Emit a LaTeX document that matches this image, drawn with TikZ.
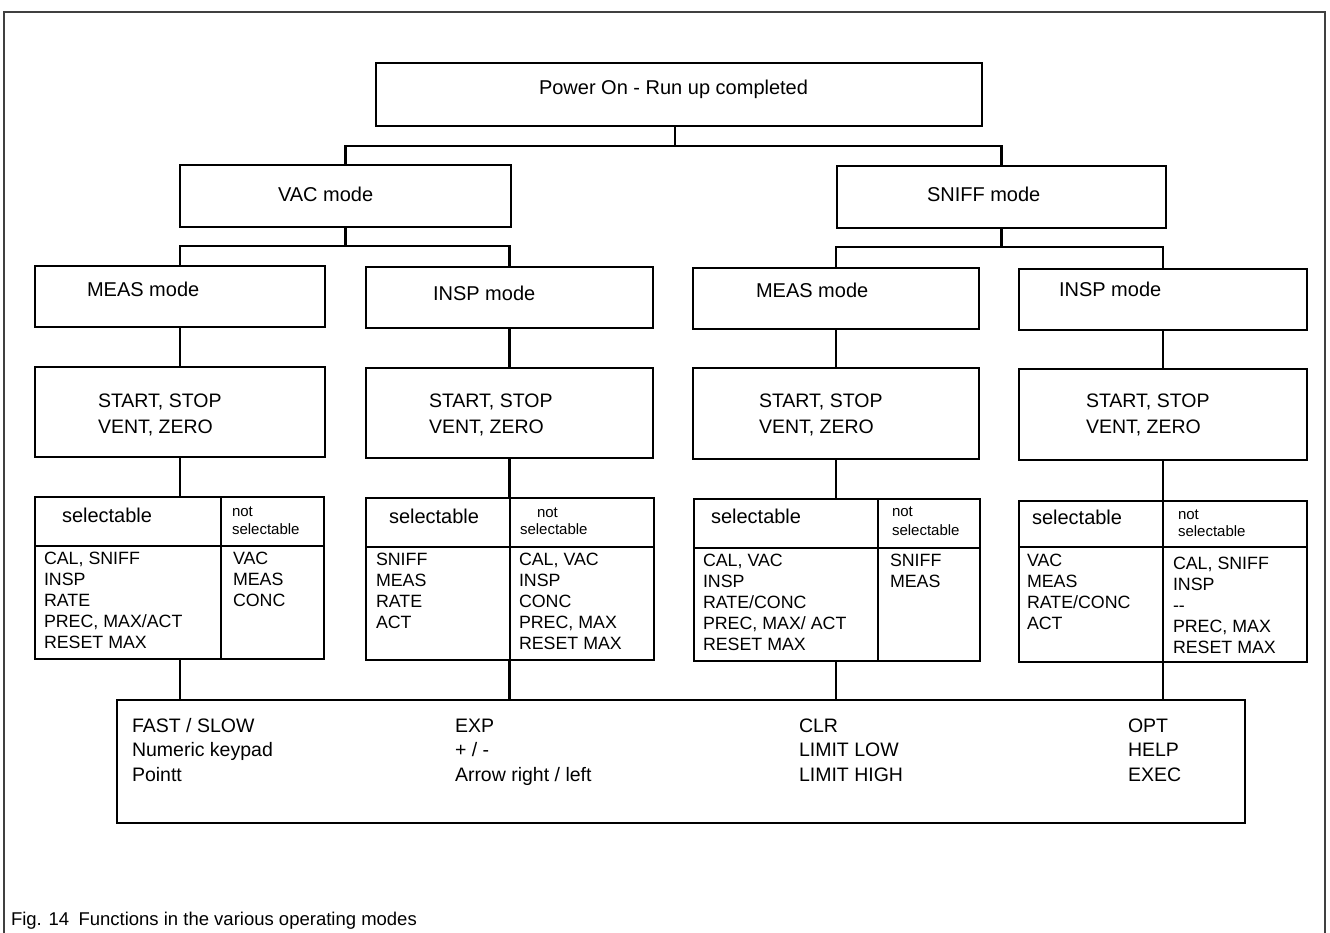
\documentclass[tikz,border=0pt]{standalone}
\usepackage{fontspec}
\setmainfont{Liberation Sans}
\tikzset{
  box/.style={draw, line width=2.6pt, inner sep=0pt, outer sep=0pt},
  conn/.style={line width=2.4pt},
  divl/.style={line width=2.6pt},
  frame/.style={line width=1.2pt, draw=black!75},
  lbl/.style={inner sep=0pt, outer sep=0pt, anchor=base west, font=\fontsize{20}{24}\selectfont},
  keys/.style={inner sep=0pt, outer sep=0pt, anchor=base west, font=\fontsize{19.5}{24}\selectfont},
  tbl/.style={inner sep=0pt, outer sep=0pt, anchor=base west, font=\fontsize{17.8}{21}\selectfont},
  small/.style={inner sep=0pt, outer sep=0pt, anchor=base west, font=\fontsize{15}{18}\selectfont},
  capt/.style={inner sep=0pt, outer sep=0pt, anchor=base west, font=\fontsize{18.5}{22}\selectfont},
}
\newcommand\mkbox[5]{\node[box, minimum width={(#4-#2)*1pt}, minimum height={(#5-#3)*1pt}] (#1) at ({(#2+#4)/2},{(#3+#5)/2}) {};}
\begin{document}
\begin{tikzpicture}[x=1pt,y=-1pt]
\useasboundingbox (0,0) rectangle (1330,933);
% outer frame (open at the bottom)
\coordinate (f1) at (4,940);
\coordinate (f2) at (4,12);
\coordinate (f3) at (1325,12);
\coordinate (f4) at (1325,940);
\draw[frame] (f1) -- (f2) -- (f3) -- (f4);

% boxes
\mkbox{P}{376}{63}{982}{126}
\mkbox{VAC}{180}{165}{511}{227}
\mkbox{SNIFF}{837}{166}{1166}{228}
\mkbox{M1}{35}{266}{325}{327}
\mkbox{I1}{366}{267}{653}{328}
\mkbox{M2}{693}{268}{979}{329}
\mkbox{I2}{1019}{269}{1307}{330}
\mkbox{S1}{35}{367}{325}{457}
\mkbox{S2}{366}{368}{653}{458}
\mkbox{S3}{693}{368}{979}{459}
\mkbox{S4}{1019}{369}{1307}{460}
\mkbox{T1}{35}{497}{324}{659}
\mkbox{T2}{366}{498}{654}{660}
\mkbox{T3}{694}{499}{980}{661}
\mkbox{T4}{1019}{501}{1307}{662}
\mkbox{B}{117}{700}{1245}{823}

% table dividers
\draw[divl] (221,497) -- (221,659);
\draw[divl] (35,546) -- (324,546);
\draw[divl] (510,498) -- (510,660);
\draw[divl] (366,547) -- (654,547);
\draw[divl] (878,499) -- (878,661);
\draw[divl] (694,548) -- (980,548);
\draw[divl] (1163,501) -- (1163,662);
\draw[divl] (1019,547) -- (1307,547);

% connectors
\coordinate (pj) at (675,146);
\coordinate (vj) at (346,246);
\coordinate (sj) at (1001,247);
\draw[conn] (P.south -| pj) -- (pj);
\draw[conn] (VAC.north) -- (VAC.north |- pj) -- (SNIFF.north |- pj) -- (SNIFF.north);
\draw[conn] (VAC.south) -- (VAC.south |- vj);
\draw[conn] (M1.north) -- (M1.north |- vj) -- (I1.north |- vj) -- (I1.north);
\draw[conn] (SNIFF.south) -- (SNIFF.south |- sj);
\draw[conn] (M2.north) -- (M2.north |- sj) -- (I2.north |- sj) -- (I2.north);
\foreach \a/\b/\c in {M1/S1/T1, I1/S2/T2, M2/S3/T3, I2/S4/T4}{
  \draw[conn] (\a.south) -- (\a.south |- \b.north);
  \draw[conn] (\b.south -| \a.south) -- (\a.south |- \c.north);
  \draw[conn] (\c.south -| \a.south) -- (\a.south |- B.north);
}

% texts
\node[lbl] (tP) at (539,95) {Power On - Run up completed};
\node[lbl] (tV) at (278,202) {VAC mode};
\node[lbl] (tS) at (927,202) {SNIFF mode};
\node[lbl] (tM1) at (87,297) {MEAS mode};
\node[lbl] (tI1) at (433,300) {INSP mode};
\node[lbl] (tM2) at (756,298) {MEAS mode};
\node[lbl] (tI2) at (1059,297) {INSP mode};
\foreach \n/\x in {1/98,2/429,3/759,4/1086}{
  \node[keys] (ss\n) at (\x,407) {START, STOP};
  \node[keys] (sv\n) at (\x,433) {VENT, ZERO};
}
% table headers
\node[lbl] (h1) at (62,522) {selectable};
\node[lbl] (h2) at (389,523) {selectable};
\node[lbl] (h3) at (711,523) {selectable};
\node[lbl] (h4) at (1032,524) {selectable};
\node[small] (n1a) at (232,516) {not};
\node[small] (n1b) at (232,534) {selectable};
\node[small] (n2a) at (537,517) {not};
\node[small] (n2b) at (520,534) {selectable};
\node[small] (n3a) at (892,516) {not};
\node[small] (n3b) at (892,535) {selectable};
\node[small] (n4a) at (1178,519) {not};
\node[small] (n4b) at (1178,536) {selectable};
% table bodies
\foreach \t [count=\i from 0] in {{CAL, SNIFF},INSP,RATE,{PREC, MAX/ACT},RESET MAX}
  \node[tbl] (a1\i) at (44,{564+21.2*\i}) {\t};
\foreach \t [count=\i from 0] in {VAC,MEAS,CONC}
  \node[tbl] (b1\i) at (233,{564+21.2*\i}) {\t};
\foreach \t [count=\i from 0] in {SNIFF,MEAS,RATE,ACT}
  \node[tbl] (a2\i) at (376,{565+21.2*\i}) {\t};
\foreach \t [count=\i from 0] in {{CAL, VAC},INSP,CONC,{PREC, MAX},RESET MAX}
  \node[tbl] (b2\i) at (519,{565+21.2*\i}) {\t};
\foreach \t [count=\i from 0] in {{CAL, VAC},INSP,RATE/CONC,{PREC, MAX/ ACT},RESET MAX}
  \node[tbl] (a3\i) at (703,{566+21.2*\i}) {\t};
\foreach \t [count=\i from 0] in {SNIFF,MEAS}
  \node[tbl] (b3\i) at (890,{566+21.2*\i}) {\t};
\foreach \t [count=\i from 0] in {VAC,MEAS,RATE/CONC,ACT}
  \node[tbl] (a4\i) at (1027,{566+21*\i}) {\t};
\foreach \t [count=\i from 0] in {{CAL, SNIFF},INSP,{-{}-},{PREC, MAX},RESET MAX}
  \node[tbl] (b4\i) at (1173,{569+21*\i}) {\t};
% bottom box
\foreach \t [count=\i from 0] in {FAST / SLOW,Numeric keypad,Pointt}
  \node[keys] (k1\i) at (132,{732+24.5*\i}) {\t};
\foreach \t [count=\i from 0] in {EXP,+ / -,Arrow right / left}
  \node[keys] (k2\i) at (455,{732+24.5*\i}) {\t};
\foreach \t [count=\i from 0] in {CLR,LIMIT LOW,LIMIT HIGH}
  \node[keys] (k3\i) at (799,{732+24.5*\i}) {\t};
\foreach \t [count=\i from 0] in {OPT,HELP,EXEC}
  \node[keys] (k4\i) at (1128,{732+24.5*\i}) {\t};
% caption
\node[capt] (cap) at (11,925) {Fig. 14\hspace{0.5em}Functions in the various operating modes};
\end{tikzpicture}
\end{document}
